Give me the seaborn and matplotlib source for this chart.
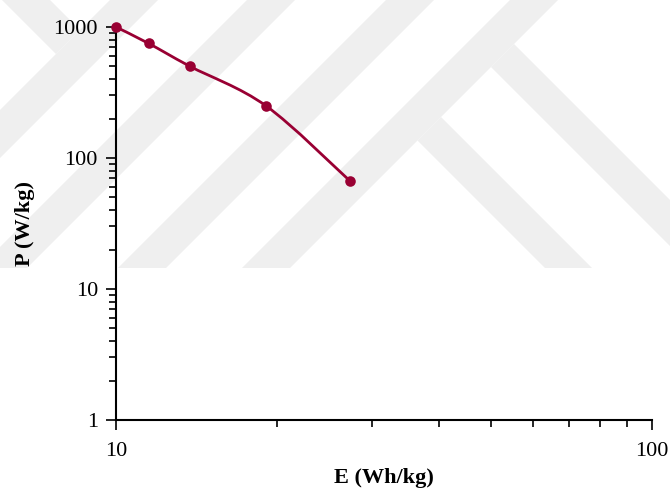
import numpy as np
import matplotlib
matplotlib.use("Agg")
import matplotlib.pyplot as plt
import seaborn as sns
from matplotlib.path import Path
from matplotlib.patches import PathPatch, Polygon
from matplotlib.ticker import FuncFormatter, NullFormatter, LogLocator

# Ragone data: specific energy vs specific power
energy = [10.0, 11.5, 13.75, 19.05, 27.3]   # Wh/kg
power = [1000, 750, 500, 250, 67]           # W/kg

x_label = "E (Wh/kg)"
y_label = "P (W/kg)"
line_color = "#990033"

sns.set_style("ticks")
plt.rcParams["font.family"] = ["Liberation Serif", "DejaVu Serif"]
plt.rcParams.update({
    "text.color": "black",
    "axes.labelcolor": "black",
    "xtick.color": "black",
    "ytick.color": "black",
    "axes.edgecolor": "black",
})

W, H = 670, 493
fig = plt.figure(figsize=(W / 100, H / 100), dpi=100)


def fig_xy(x, y):
    return (x / W, 1 - y / H)


# light background logo bands (pixel outlines, y measured from the top)
def up_band(x0, w=48, base=268):
    return [(x0, base), (x0 + w, base), (x0 + w + base + 40, -40), (x0 + base + 40, -40)]


logo = [
    up_band(-158), up_band(-21), up_band(118), up_band(242),
    [(-30, -32), (18, -32), (80, 30), (56, 54)],
    [(417.5, 140.5), (441, 117), (592, 268), (545, 268)],
    [(491, 67), (514, 44), (738, 268), (692, 268)],
]
for poly in logo:
    fig.add_artist(Polygon([fig_xy(*p) for p in poly], closed=True,
                           transform=fig.transFigure, facecolor="#EFEFEF",
                           edgecolor="none", zorder=-5))

ax = fig.add_axes([116 / W, 73 / H, 536 / W, 393 / H])
ax.set_facecolor("none")
ax.set_xscale("log")
ax.set_yscale("log")
ax.set_xlim(10, 100)
ax.set_ylim(1, 1000)

# smoothed connecting curve (Catmull-Rom style Bezier in log space)
pts = np.column_stack([np.log10(energy), np.log10(power)])
n = len(pts)
verts = [pts[0]]
codes = [Path.MOVETO]
for i in range(n - 1):
    p_prev = pts[i - 1] if i > 0 else pts[i]
    p_next = pts[i + 2] if i + 2 < n else pts[i + 1]
    c1 = pts[i] + (pts[i + 1] - p_prev) / 6
    c2 = pts[i + 1] - (p_next - pts[i]) / 6
    verts += [c1, c2, pts[i + 1]]
    codes += [Path.CURVE4] * 3
verts = 10 ** np.array(verts)
ax.add_patch(PathPatch(Path(verts, codes), facecolor="none",
                       edgecolor=line_color, lw=2.0, clip_on=False,
                       capstyle="round", joinstyle="round", zorder=2))

sns.scatterplot(x=energy, y=power, ax=ax, color=line_color, s=58,
                linewidth=0, zorder=3, clip_on=False, legend=False)

ax.xaxis.set_major_locator(LogLocator(base=10))
ax.yaxis.set_major_locator(LogLocator(base=10))
ax.xaxis.set_minor_locator(LogLocator(base=10, subs=np.arange(2, 10)))
ax.yaxis.set_minor_locator(LogLocator(base=10, subs=np.arange(2, 10)))
fmt = FuncFormatter(lambda v, p: f"{v:g}")
ax.xaxis.set_major_formatter(fmt)
ax.yaxis.set_major_formatter(fmt)
ax.xaxis.set_minor_formatter(NullFormatter())
ax.yaxis.set_minor_formatter(NullFormatter())

ax.tick_params(which="major", direction="out", length=7, width=1.2,
               labelsize=16, colors="black")
ax.tick_params(axis="x", which="major", pad=9)
ax.tick_params(axis="y", which="major", pad=6)
ax.tick_params(which="minor", direction="out", length=5, width=1.2,
               colors="black")
for side in ("top", "right"):
    ax.spines[side].set_visible(False)
for side in ("left", "bottom"):
    ax.spines[side].set_linewidth(1.5)
    ax.spines[side].set_color("black")

ax.set_xlabel(x_label, fontsize=16, fontweight="bold", color="black")
ax.set_ylabel(y_label, fontsize=16, fontweight="bold", color="black")
ax.xaxis.set_label_coords(0.5, -(468 - 420) / 393)
ax.yaxis.set_label_coords(-(116 - 35) / 536, 0.5)

fig.savefig("out.png", dpi=100)
